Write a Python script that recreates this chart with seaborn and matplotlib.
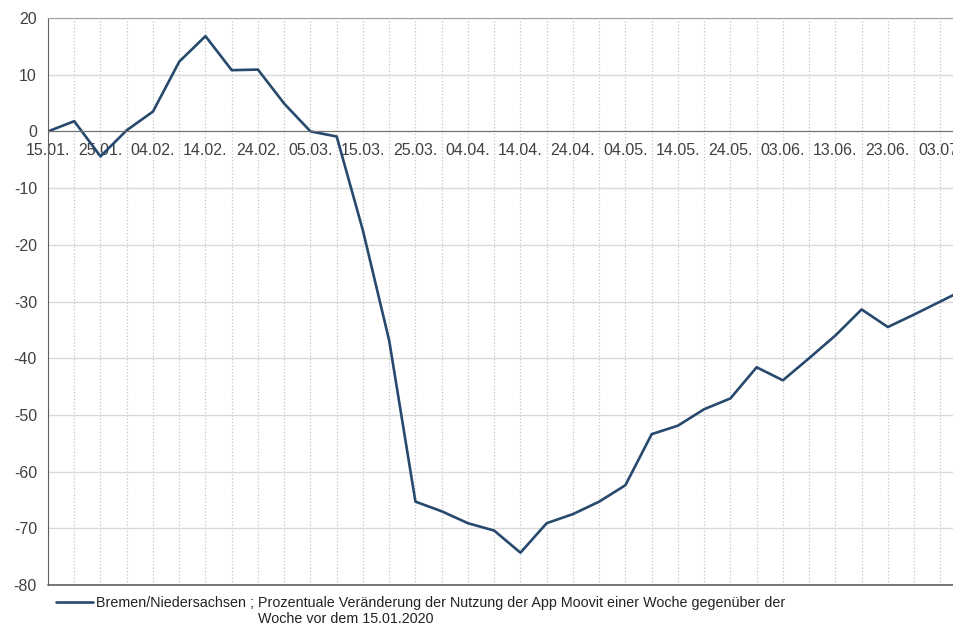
import matplotlib
matplotlib.use("Agg")
import matplotlib.pyplot as plt
import matplotlib.dates as mdates
import pandas as pd
import seaborn as sns

# Moovit usage change, one value every 5 days starting 15.01.2020
start_date = "2020-01-15"
change_pct = [
    0.0, 1.8, -4.4, 0.2, 3.5, 12.3, 16.8, 10.8, 10.9, 4.9,
    0.0, -0.9, -17.5, -36.9, -65.3, -67.0, -69.1, -70.4, -74.3, -69.1,
    -67.5, -65.3, -62.4, -53.4, -51.9, -49.0, -47.1, -41.6, -43.9, -40.0,
    -36.0, -31.4, -34.5, -32.3, -30.0, -27.7,
]
dates = pd.date_range(start_date, periods=len(change_pct), freq="5D")
label_dates = pd.date_range(start_date, "2020-07-03", freq="10D")
minor_dates = pd.date_range("2020-01-20", "2020-07-08", freq="10D")
y_ticks = [-80, -70, -60, -50, -40, -30, -20, -10, 0, 10, 20]

legend_line1 = ("Bremen/Niedersachsen ; Prozentuale Veränderung der Nutzung "
                "der App Moovit einer Woche gegenüber der")
legend_line2 = "Woche vor dem 15.01.2020"

df = pd.DataFrame({"date": dates, "value": change_pct})

sns.set_style("white")
plt.rcParams["font.family"] = ["Liberation Sans", "DejaVu Sans"]
plt.rcParams["axes.unicode_minus"] = False

fig = plt.figure(figsize=(9.54, 6.26), dpi=100)
ax = fig.add_axes([48 / 954, 1 - 585 / 626, 1 - 48 / 954, (585 - 18) / 626])

line_color = "#27496d"
sns.lineplot(data=df, x="date", y="value", ax=ax, color=line_color,
             linewidth=1.9, label=legend_line1, legend=False)

ax.set_yticks(y_ticks)
ax.set_xticks(label_dates)
ax.set_xticks(minor_dates, minor=True)
ax.xaxis.set_major_formatter(mdates.DateFormatter("%d.%m."))
# limits after ticks, so the ticks do not widen the view
ax.set_xlim(pd.Timestamp(start_date), pd.Timestamp(start_date) + pd.Timedelta(days=172.6))
ax.set_ylim(-80, 20)

# grid
ax.grid(True, axis="y", color="#d9d9d9", linewidth=1.0, linestyle="-")
ax.grid(True, axis="x", which="both", color="#c4c4c4", linewidth=0.9, linestyle=":")
ax.set_axisbelow(True)

# spines
ax.spines["right"].set_visible(False)
ax.spines["top"].set_color("#a0a0a0")
ax.spines["left"].set_color("#606060")
ax.spines["bottom"].set_position(("data", 0))
ax.spines["bottom"].set_color("#707070")
ax.axhline(-80, color="#606060", linewidth=1.2, zorder=1, clip_on=False)

ax.tick_params(axis="y", direction="out", length=5, color="#606060",
               labelsize=11.5, labelcolor="#404040", pad=3)
ax.tick_params(axis="x", which="both", direction="out", length=4, color="#707070",
               labelsize=11.5, labelcolor="#404040", pad=4)
ax.set_xlabel("")
ax.set_ylabel("")

# legend below the plot
handle = ax.get_lines()[0]
fig.legend([handle], [legend_line1], loc="upper left",
           bbox_to_anchor=(56 / 954, 1 - 596 / 626), frameon=False,
           fontsize=10.3, handlelength=2.6, handletextpad=0.2,
           labelcolor="#222222", borderaxespad=0, borderpad=0)
fig.text(258 / 954, 1 - 619 / 626, legend_line2, fontsize=10.3,
         color="#222222", va="center", ha="left")

fig.savefig("out.png", dpi=100)
